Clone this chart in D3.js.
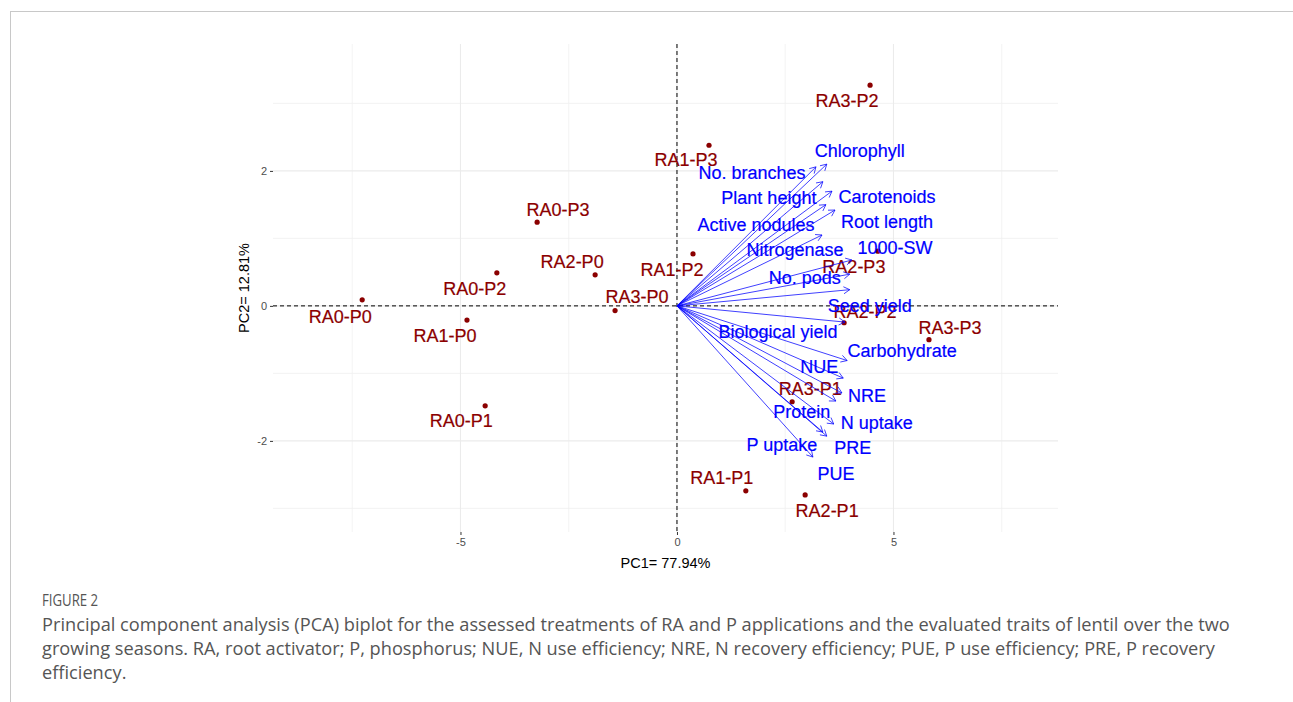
<!DOCTYPE html>
<html>
<head>
<meta charset="utf-8">
<script src="https://cdn.jsdelivr.net/npm/d3@7"></script>
<style>
  body { margin: 0; background: #fff; }
  svg { display: block; }
</style>
</head>
<body>
<div id="chart"></div>
<script>
// treatments (individuals)
let obsNames = ["RA0-P0", "RA1-P0", "RA0-P1", "RA0-P2", "RA0-P3", "RA2-P0", "RA3-P0", "RA1-P2",
  "RA1-P3", "RA3-P2", "RA2-P3", "RA2-P2", "RA3-P3", "RA3-P1", "RA1-P1", "RA2-P1"]
let obsPC1 = [-7.27, -4.85, -4.43, -4.16, -3.23, -1.89, -1.43, 0.37, 0.74, 4.46, 4.64, 3.86, 5.82, 2.66, 1.59, 2.96]
let obsPC2 = [0.09, -0.21, -1.48, 0.49, 1.24, 0.46, -0.07, 0.77, 2.38, 3.27, 0.81, -0.25, -0.50, -1.42, -2.74, -2.80]

// traits (variables)
let varNames = ["Chlorophyll", "No. branches", "Plant height", "Carotenoids", "Active nodules", "Root length",
  "Nitrogenase", "1000-SW", "No. pods", "Seed yield", "Biological yield", "Carbohydrate", "NUE", "NRE",
  "Protein", "N uptake", "PRE", "P uptake", "PUE"]
let varPC1 = [3.46, 3.21, 3.37, 3.58, 3.44, 3.65, 3.35, 4.04, 3.99, 3.99, 3.88, 3.93, 3.84, 3.81, 3.67, 3.62, 3.46, 3.37, 3.14]
let varPC2 = [2.10, 2.06, 1.84, 1.70, 1.50, 1.42, 1.05, 0.68, 0.47, 0.24, -0.24, -0.81, -1.07, -1.29, -1.41, -1.75, -1.93, -1.87, -2.24]

let xTicks = [-5, 0, 5]
let yTicks = [-2, 0, 2]
let xMinor = [-7.5, -2.5, 2.5, 7.5]
let yMinor = [-3, -1, 1, 3]

let xTitle = "PC1= 77.94%"
let yTitle = "PC2= 12.81%"
let figLabel = "FIGURE 2"
let caption = [
  "Principal component analysis (PCA) biplot for the assessed treatments of RA and P applications and the evaluated traits of lentil over the two",
  "growing seasons. RA, root activator; P, phosphorus; NUE, N use efficiency; NRE, N recovery efficiency; PUE, P use efficiency; PRE, P recovery",
  "efficiency."
]

// label nudges in px (layout only, like a repel result)
let obsNudge = [[-22, 17], [-22, 16], [-24, 15], [-22, 16], [21, -12], [-23, -13], [22, -14], [-21, 16],
  [-23, 15], [-23, 16], [-24, 16], [21, -11], [21, -12], [18, -13], [-24, -13], [22, 16]]
let varNudge = [[33, -13], [-64, 6], [-54, 16], [55, 6], [-70, 20], [52, 12], [-27, 15], [43, -12], [-45, 4],
  [20, 16], [-67, 10], [55, -10], [-24, -11], [25, 3], [-34, 11], [43, -1], [26, 12], [-41, 13], [23, 17]]

let width = 1293, height = 702
let panel = {left: 273, right: 1058, top: 44, bottom: 532}
let red = "#8b0000", blue = "#0000ff"
let font = "'Liberation Sans', Arial, sans-serif"

let svg = d3.select("#chart")
  .append("svg")
  .attr("width", width)
  .attr("height", height)

// frame lines of the figure box
svg.append("line").attr("x1", 10).attr("x2", width).attr("y1", 11.5).attr("y2", 11.5)
  .attr("stroke", "#c8c8c8").attr("stroke-width", 1)
svg.append("line").attr("x1", 10.5).attr("x2", 10.5).attr("y1", 11).attr("y2", height)
  .attr("stroke", "#c8c8c8").attr("stroke-width", 1)

let x = d3.scaleLinear().domain([-9.33, 8.80]).range([panel.left, panel.right])
let y = d3.scaleLinear().domain([-3.35, 3.88]).range([panel.bottom, panel.top])

// grid
let grid = svg.append("g").attr("class", "grid")
grid.selectAll(".vminor").data(xMinor).enter().append("line")
  .attr("x1", d => x(d)).attr("x2", d => x(d)).attr("y1", panel.top).attr("y2", panel.bottom)
  .attr("stroke", "#f0f0f0").attr("stroke-width", 0.8)
grid.selectAll(".hminor").data(yMinor).enter().append("line")
  .attr("y1", d => y(d)).attr("y2", d => y(d)).attr("x1", panel.left).attr("x2", panel.right)
  .attr("stroke", "#f0f0f0").attr("stroke-width", 0.8)
grid.selectAll(".vmajor").data(xTicks).enter().append("line")
  .attr("x1", d => x(d)).attr("x2", d => x(d)).attr("y1", panel.top).attr("y2", panel.bottom)
  .attr("stroke", "#ebebeb").attr("stroke-width", 1.1)
grid.selectAll(".hmajor").data(yTicks).enter().append("line")
  .attr("y1", d => y(d)).attr("y2", d => y(d)).attr("x1", panel.left).attr("x2", panel.right)
  .attr("stroke", "#ebebeb").attr("stroke-width", 1.1)

// reference lines
svg.append("line").attr("x1", x(0)).attr("x2", x(0)).attr("y1", panel.top).attr("y2", panel.bottom)
  .attr("stroke", "#000").attr("stroke-width", 1).attr("stroke-dasharray", "4,3")
svg.append("line").attr("x1", panel.left).attr("x2", panel.right).attr("y1", y(0)).attr("y2", y(0))
  .attr("stroke", "#000").attr("stroke-width", 1).attr("stroke-dasharray", "4,3")

// axes
let xAxis = svg.append("g").attr("class", "xAxis")
  .attr("transform", `translate(0,${panel.bottom})`)
  .call(d3.axisBottom(x).tickValues(xTicks).tickSize(3).tickSizeOuter(0).tickPadding(3))
let yAxis = svg.append("g").attr("class", "yAxis")
  .attr("transform", `translate(${panel.left},0)`)
  .call(d3.axisLeft(y).tickValues(yTicks).tickSize(3).tickSizeOuter(0).tickPadding(3))
svg.selectAll(".xAxis path, .yAxis path").remove()
svg.selectAll(".xAxis line, .yAxis line").attr("stroke", "#333").attr("stroke-width", 1)
svg.selectAll(".xAxis text, .yAxis text")
  .attr("fill", "#4d4d4d").attr("font-size", 11).attr("font-family", font)
svg.selectAll(".xAxis text, .yAxis text").text(d => d < 0 ? "-" + Math.abs(d) : d)

svg.append("text").attr("x", (panel.left + panel.right) / 2).attr("y", 568)
  .attr("text-anchor", "middle").attr("font-size", 14.5).attr("font-family", font)
  .attr("fill", "#000").text(xTitle)
svg.append("text").attr("transform", `translate(249,${(panel.top + panel.bottom) / 2}) rotate(-90)`)
  .attr("text-anchor", "middle").attr("font-size", 14.5).attr("font-family", font)
  .attr("fill", "#000").text(yTitle)

// individuals
let obs = obsNames.map((n, i) => ({name: n, pc1: obsPC1[i], pc2: obsPC2[i], nudge: obsNudge[i]}))
svg.append("g").selectAll("circle").data(obs).enter().append("circle")
  .attr("cx", d => x(d.pc1)).attr("cy", d => y(d.pc2)).attr("r", 2.6).attr("fill", red)
svg.append("g").selectAll("text").data(obs).enter().append("text")
  .attr("x", d => x(d.pc1) + d.nudge[0]).attr("y", d => y(d.pc2) + d.nudge[1])
  .attr("text-anchor", "middle").attr("dominant-baseline", "central")
  .attr("font-size", 18).attr("font-family", font).attr("fill", red)
  .attr("stroke", red).attr("stroke-width", 0.2)
  .text(d => d.name)

// variables
let vars = varNames.map((n, i) => ({name: n, pc1: varPC1[i], pc2: varPC2[i], nudge: varNudge[i]}))
let arrowPath = d => {
  let x0 = x(0), y0 = y(0), x1 = x(d.pc1), y1 = y(d.pc2)
  let a = Math.atan2(y1 - y0, x1 - x0), L = 7, w = Math.PI / 6
  let p1 = [x1 - L * Math.cos(a - w), y1 - L * Math.sin(a - w)]
  let p2 = [x1 - L * Math.cos(a + w), y1 - L * Math.sin(a + w)]
  return `M${x0},${y0}L${x1},${y1}M${p1[0]},${p1[1]}L${x1},${y1}L${p2[0]},${p2[1]}`
}
svg.append("g").selectAll("path").data(vars).enter().append("path")
  .attr("d", arrowPath).attr("fill", "none").attr("stroke", blue).attr("stroke-width", 0.75)
svg.append("g").selectAll("text").data(vars).enter().append("text")
  .attr("x", d => x(d.pc1) + d.nudge[0]).attr("y", d => y(d.pc2) + d.nudge[1])
  .attr("text-anchor", "middle").attr("dominant-baseline", "central")
  .attr("font-size", 18).attr("font-family", font).attr("fill", blue)
  .attr("stroke", blue).attr("stroke-width", 0.2)
  .text(d => d.name)

// caption
let capFont = "'Open Sans', 'Noto Sans', sans-serif"
svg.append("text").attr("x", 42).attr("y", 606).attr("font-size", 16.5).attr("font-family", capFont)
  .attr("fill", "#555").attr("transform", "translate(42,0) scale(0.8,1) translate(-42,0)")
  .text(figLabel)
let cap = svg.append("g")
let capLines = cap.selectAll("text").data(caption).enter().append("text")
  .attr("x", 0).attr("y", (d, i) => 631 + i * 24)
  .attr("font-size", 17.5).attr("font-family", capFont).attr("fill", "#555")
  .text(d => d)
let natural = capLines.nodes()[0].getComputedTextLength()
let sx = 1188 / natural
cap.attr("transform", `translate(42,0) scale(${sx},1)`)
</script>
</body>
</html>
